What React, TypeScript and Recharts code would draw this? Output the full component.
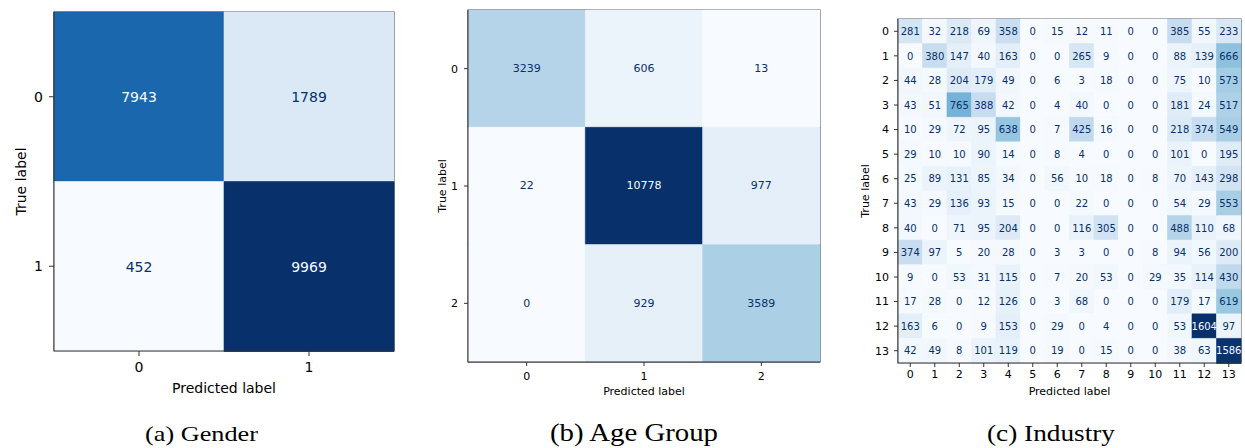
import React from 'react';
import { BarChart, Bar, XAxis, YAxis, Cell, LabelList, ReferenceArea } from 'recharts';

const genderLabels = ['0', '1'];
const genderMatrix = [
  [7943, 1789],
  [452, 9969],
];

const ageLabels = ['0', '1', '2'];
const ageMatrix = [
  [3239, 606, 13],
  [22, 10778, 977],
  [0, 929, 3589],
];

const industryLabels = ['0', '1', '2', '3', '4', '5', '6', '7', '8', '9', '10', '11', '12', '13'];
const industryMatrix = [
  [281, 32, 218, 69, 358, 0, 15, 12, 11, 0, 0, 385, 55, 233],
  [0, 380, 147, 40, 163, 0, 0, 265, 9, 0, 0, 88, 139, 666],
  [44, 28, 204, 179, 49, 0, 6, 3, 18, 0, 0, 75, 10, 573],
  [43, 51, 765, 388, 42, 0, 4, 40, 0, 0, 0, 181, 24, 517],
  [10, 29, 72, 95, 638, 0, 7, 425, 16, 0, 0, 218, 374, 549],
  [29, 10, 10, 90, 14, 0, 8, 4, 0, 0, 0, 101, 0, 195],
  [25, 89, 131, 85, 34, 0, 56, 10, 18, 0, 8, 70, 143, 298],
  [43, 29, 136, 93, 15, 0, 0, 22, 0, 0, 0, 54, 29, 553],
  [40, 0, 71, 95, 204, 0, 0, 116, 305, 0, 0, 488, 110, 68],
  [374, 97, 5, 20, 28, 0, 3, 3, 0, 0, 8, 94, 56, 200],
  [9, 0, 53, 31, 115, 0, 7, 20, 53, 0, 29, 35, 114, 430],
  [17, 28, 0, 12, 126, 0, 3, 68, 0, 0, 0, 179, 17, 619],
  [163, 6, 0, 9, 153, 0, 29, 0, 4, 0, 0, 53, 1604, 97],
  [42, 49, 8, 101, 119, 0, 19, 0, 15, 0, 0, 38, 63, 1586],
];

const captions = ['(a) Gender', '(b) Age Group', '(c) Industry'];
const axisTitles = { x: 'Predicted label', y: 'True label' };

// matplotlib "Blues" colormap stops
const BLUES = [
  [247, 251, 255],
  [222, 235, 247],
  [198, 219, 239],
  [158, 202, 225],
  [107, 174, 214],
  [66, 146, 198],
  [33, 113, 181],
  [8, 81, 156],
  [8, 48, 107],
];

function blues(t: number): string {
  const c = Math.max(0, Math.min(1, t)) * (BLUES.length - 1);
  const i = Math.min(Math.floor(c), BLUES.length - 2);
  const f = c - i;
  const a = BLUES[i];
  const b = BLUES[i + 1];
  const r = Math.round(a[0] + (b[0] - a[0]) * f);
  const g = Math.round(a[1] + (b[1] - a[1]) * f);
  const bl = Math.round(a[2] + (b[2] - a[2]) * f);
  return `rgb(${r},${g},${bl})`;
}

const FONT = '"DejaVu Sans", sans-serif';
const SPINE = '#333333';

type MatrixProps = {
  labels: string[];
  matrix: number[][];
  left: number;
  width: number;
  height: number;
  margin: { top: number; right: number; bottom: number; left: number };
  yAxisWidth: number;
  xAxisHeight: number;
  tickFont: number;
  cellFont: number;
  tickSize: number;
  xTickMargin: number;
  yTickMargin: number;
  xLabelOffset: number;
  yLabelOffset: number;
};

function Matrix(p: MatrixProps) {
  const n = p.labels.length;
  const flat = p.matrix.flat();
  const min = Math.min(...flat);
  const max = Math.max(...flat);
  const thresh = (max + min) / 2;
  const data = p.labels.map((lab, i) => {
    const row: any = { label: lab };
    for (let j = 0; j < n; j++) {
      row[`c${j}`] = 1;
      row[`v${j}`] = p.matrix[i][j];
    }
    return row;
  });
  const tickStyle = { fill: '#000', fontSize: p.tickFont, fontFamily: FONT };
  return (
    <div style={{ position: 'absolute', left: p.left, top: 0 }}>
      <BarChart
        width={p.width}
        height={p.height}
        data={data}
        layout="vertical"
        margin={p.margin}
        barCategoryGap={0}
        barGap={0}
        style={{ fontFamily: FONT }}
      >
        <XAxis
          type="number"
          domain={[0, n]}
          ticks={p.labels.map((_, j) => j + 0.5)}
          tickFormatter={(v: number) => p.labels[Math.round(v - 0.5)]}
          interval={0}
          height={p.xAxisHeight}
          tick={tickStyle}
          tickSize={p.tickSize}
          tickMargin={p.xTickMargin}
          axisLine={{ stroke: SPINE }}
          tickLine={{ stroke: SPINE }}
          label={{
            value: axisTitles.x,
            position: 'bottom',
            offset: p.xLabelOffset,
            style: { fill: '#000', fontSize: p.tickFont, fontFamily: FONT },
          }}
        />
        <YAxis
          type="category"
          dataKey="label"
          width={p.yAxisWidth}
          interval={0}
          tick={tickStyle}
          tickSize={p.tickSize}
          tickMargin={p.yTickMargin}
          axisLine={{ stroke: SPINE }}
          tickLine={{ stroke: SPINE }}
          label={{
            value: axisTitles.y,
            angle: -90,
            position: 'insideLeft',
            offset: p.yLabelOffset,
            style: { fill: '#000', fontSize: p.tickFont, fontFamily: FONT, textAnchor: 'middle' },
          }}
        />
        {p.labels.map((_, j) => (
          <Bar key={j} dataKey={`c${j}`} stackId="m" isAnimationActive={false}>
            {data.map((_, i) => {
              const fill = blues((p.matrix[i][j] - min) / (max - min));
              return <Cell key={i} fill={fill} stroke={fill} strokeWidth={0.6} />;
            })}
            <LabelList
              dataKey={`v${j}`}
              content={(lp: any) => {
                const v = Number(lp.value);
                const color = v < thresh ? '#08306b' : '#f7fbff';
                return (
                  <text
                    x={Number(lp.x) + Number(lp.width) / 2}
                    y={Number(lp.y) + Number(lp.height) / 2}
                    textAnchor="middle"
                    dominantBaseline="central"
                    fill={color}
                    fontSize={p.cellFont}
                    fontFamily={FONT}
                  >
                    {String(lp.value)}
                  </text>
                );
              }}
            />
          </Bar>
        ))}
        <ReferenceArea x1={0} x2={n} fill="none" fillOpacity={0} stroke={SPINE} strokeWidth={1.2} ifOverflow="visible" />
      </BarChart>
    </div>
  );
}

export default function App() {
  return (
    <div style={{ position: 'absolute', left: 0, top: 0, width: 1245, height: 448, background: '#fff', overflow: 'hidden' }}>
      <Matrix
        labels={genderLabels}
        matrix={genderMatrix}
        left={0}
        width={420}
        height={448}
        margin={{ top: 12, right: 26, bottom: 67, left: 14 }}
        yAxisWidth={40}
        xAxisHeight={30}
        tickFont={14}
        cellFont={14}
        tickSize={5}
        xTickMargin={6}
        yTickMargin={6}
        xLabelOffset={2}
        yLabelOffset={7}
      />
      <Matrix
        labels={ageLabels}
        matrix={ageMatrix}
        left={420}
        width={430}
        height={448}
        margin={{ top: 10, right: 30, bottom: 66, left: 18 }}
        yAxisWidth={30}
        xAxisHeight={20}
        tickFont={11}
        cellFont={11}
        tickSize={4}
        xTickMargin={6}
        yTickMargin={6}
        xLabelOffset={5}
        yLabelOffset={4}
      />
      <Matrix
        labels={industryLabels}
        matrix={industryMatrix}
        left={850}
        width={395}
        height={448}
        margin={{ top: 19, right: 4, bottom: 65, left: 13 }}
        yAxisWidth={35}
        xAxisHeight={20}
        tickFont={11}
        cellFont={10}
        tickSize={4}
        xTickMargin={3}
        yTickMargin={5}
        xLabelOffset={4}
        yLabelOffset={2}
      />
      <svg width={1245} height={448} style={{ position: 'absolute', left: 0, top: 0, pointerEvents: 'none' }}>
        <text x={201.5} y={441} textAnchor="middle" fontFamily='"Liberation Serif", serif' fontSize={22} textLength={113} lengthAdjust="spacingAndGlyphs" fill="#000">
          {captions[0]}
        </text>
        <text x={634} y={441} textAnchor="middle" fontFamily='"Liberation Serif", serif' fontSize={25} textLength={168} lengthAdjust="spacingAndGlyphs" fill="#000">
          {captions[1]}
        </text>
        <text x={1051} y={441} textAnchor="middle" fontFamily='"Liberation Serif", serif' fontSize={22.5} textLength={128} lengthAdjust="spacingAndGlyphs" fill="#000">
          {captions[2]}
        </text>
      </svg>
    </div>
  );
}
